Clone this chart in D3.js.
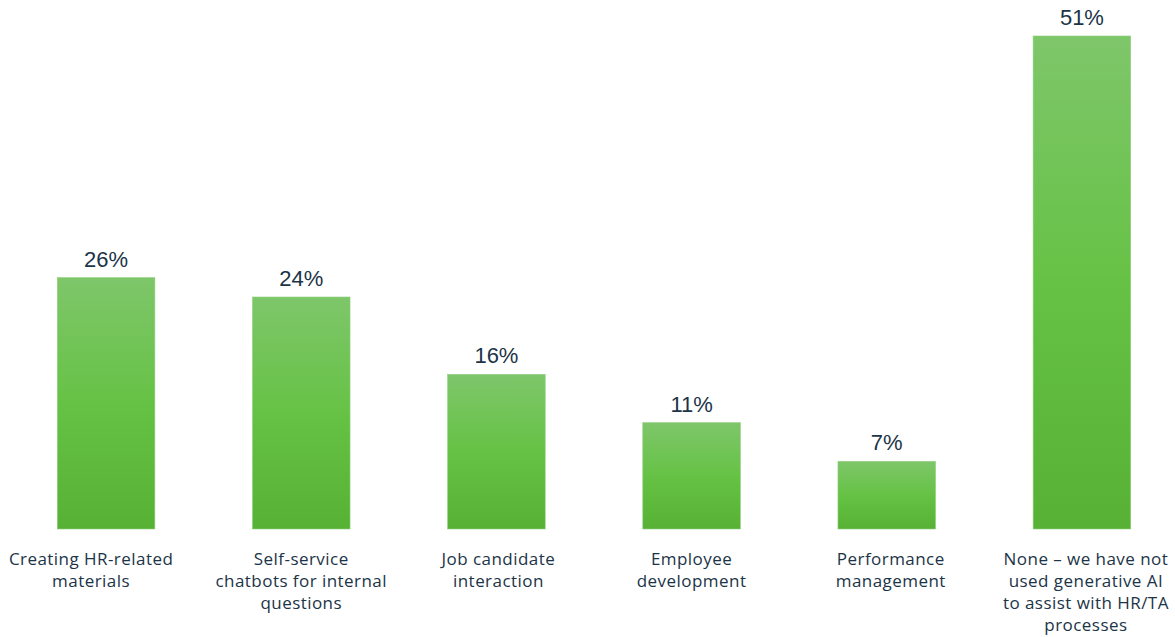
<!DOCTYPE html>
<html><head><meta charset="utf-8">
<script src="https://cdn.jsdelivr.net/npm/d3@7"></script>
<style>body{margin:0;background:#fff}svg{display:block}</style>
</head><body>
<script>
const categories = [
  ["Creating HR-related", "materials"],
  ["Self-service", "chatbots for internal", "questions"],
  ["Job candidate", "interaction"],
  ["Employee", "development"],
  ["Performance", "management"],
  ["None \u2013 we have not", "used generative AI", "to assist with HR/TA", "processes"]
];
const values = [26, 24, 16, 11, 7, 51];
const valueLabels = ["26%", "24%", "16%", "11%", "7%", "51%"];

const W = 1175, H = 637;
const svg = d3.select("body").append("svg").attr("width", W).attr("height", H);
const defs = svg.append("defs");
const grad = defs.append("linearGradient").attr("id", "g").attr("x1", 0).attr("y1", 0).attr("x2", 0).attr("y2", 1);
grad.append("stop").attr("offset", "0%").attr("stop-color", "#7ec66a");
grad.append("stop").attr("offset", "50%").attr("stop-color", "#66c245");
grad.append("stop").attr("offset", "100%").attr("stop-color", "#56b135");

const x = d3.scaleBand().domain(d3.range(values.length)).range([8.5, 1179.5]).paddingInner(0.5).paddingOuter(0.25);
const y = d3.scaleLinear().domain([0, 51]).range([529, 36]);

const g = svg.append("g");
g.selectAll("rect").data(values).join("rect")
  .attr("x", (d, i) => x(i)).attr("width", x.bandwidth())
  .attr("y", d => y(d)).attr("height", d => y(0) - y(d))
  .attr("fill", "url(#g)").attr("stroke", "#8fd07d").attr("stroke-width", 0.6);

g.selectAll("text.v").data(values).join("text").attr("class", "v")
  .attr("x", (d, i) => x(i) + x.bandwidth() / 2).attr("y", d => y(d) - 11)
  .attr("text-anchor", "middle").attr("font-family", "Liberation Sans, Arial, sans-serif")
  .attr("font-size", 22).attr("fill", "#1b3447")
  .text((d, i) => valueLabels[i]);

const lab = g.selectAll("text.c").data(categories).join("text").attr("class", "c")
  .attr("text-anchor", "middle").attr("font-family", "'Open Sans', sans-serif")
  .attr("font-size", 17).attr("letter-spacing", 0.45).attr("fill", "#1b3447");
lab.each(function(lines, i) {
  const cx = x(i) + x.bandwidth() / 2 + (i === 0 ? -15 : i === 2 ? 2 : i === 4 ? 4 : i === 5 ? 4 : 0);
  d3.select(this).selectAll("tspan").data(lines).join("tspan")
    .attr("x", cx).attr("y", (l, j) => 565 + j * 22).text(l => l);
});
</script>
</body></html>
